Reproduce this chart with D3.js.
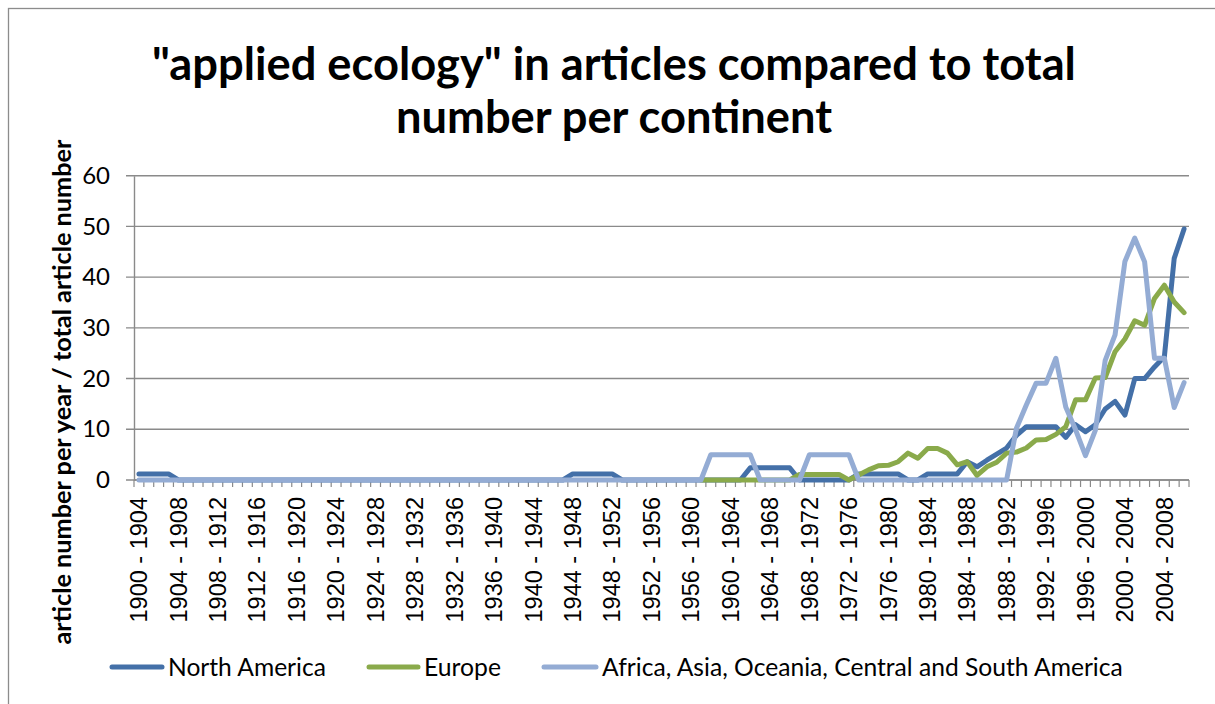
<!DOCTYPE html>
<html>
<head>
<meta charset="utf-8">
<script src="https://cdn.jsdelivr.net/npm/d3@7"></script>
<style>
  body { margin: 0; background: #fff; }
  svg { display: block; }
</style>
</head>
<body>
<div id="chart"></div>
<script>
// 5-year windows, one per start year
var categories = d3.range(1900, 2007).map(function(y) { return y + " - " + (y + 4); });
var tickLabels = categories.filter(function(d, i) { return i % 4 === 0; });
var yTicks = [0, 10, 20, 30, 40, 50, 60];

var northAmerica = [
  1.2, 1.2, 1.2, 1.2, 0, 0, 0, 0, 0, 0,
  0, 0, 0, 0, 0, 0, 0, 0, 0, 0,
  0, 0, 0, 0, 0, 0, 0, 0, 0, 0,
  0, 0, 0, 0, 0, 0, 0, 0, 0, 0,
  0, 0, 0, 0, 1.2, 1.2, 1.2, 1.2, 1.2, 0,
  0, 0, 0, 0, 0, 0, 0, 0, 0, 0,
  0, 0, 2.4, 2.4, 2.4, 2.4, 2.4, 0, 0, 0,
  0, 0, 0, 1.2, 1.2, 1.2, 1.2, 1.2, 0, 0,
  1.2, 1.2, 1.2, 1.2, 3.6, 2.6, 3.9, 5.1, 6.3, 8.8,
  10.5, 10.5, 10.5, 10.5, 8.4, 10.9, 9.5, 10.9, 14.0, 15.5,
  12.8, 20.0, 20.0, 22.3, 24.3, 43.7, 49.5
];

var europe = [
  null, null, null, null, null, null, null, null, null, null,
  null, null, null, null, null, null, null, null, null, null,
  null, null, null, null, null, null, null, null, null, null,
  null, null, null, null, null, null, null, null, null, null,
  null, null, null, null, null, null, null, null, null, null,
  null, null, null, null, null, null, null, 0, 0, 0,
  0, 0, 0, 0, 0, 0, 0, 1.1, 1.1, 1.1,
  1.1, 1.1, 0, 1.0, 2.0, 2.8, 2.9, 3.6, 5.3, 4.3,
  6.2, 6.2, 5.3, 3.0, 3.6, 0.9, 2.6, 3.5, 5.3, 5.5,
  6.3, 7.9, 8.0, 9.0, 10.5, 15.8, 15.8, 20.1, 20.2, 25.3,
  27.8, 31.4, 30.5, 35.8, 38.4, 35.1, 33.0
];

var otherRegions = [
  0, 0, 0, 0, 0, 0, 0, 0, 0, 0,
  0, 0, 0, 0, 0, 0, 0, 0, 0, 0,
  0, 0, 0, 0, 0, 0, 0, 0, 0, 0,
  0, 0, 0, 0, 0, 0, 0, 0, 0, 0,
  0, 0, 0, 0, 0, 0, 0, 0, 0, 0,
  0, 0, 0, 0, 0, 0, 0, 0, 5.0, 5.0,
  5.0, 5.0, 5.0, 0, 0, 0, 0, 0, 5.0, 5.0,
  5.0, 5.0, 5.0, 0, 0, 0, 0, 0, 0, 0,
  0, 0, 0, 0, 0, 0, 0, 0, 0, 10.2,
  14.8, 19.1, 19.1, 24.0, 14.4, 9.9, 4.8, 9.8, 23.6, 28.6,
  43.1, 47.7, 43.0, 24.0, 24.0, 14.3, 19.2
];

var seriesNames = ["North America", "Europe", "Africa, Asia, Oceania, Central and South America"];
var seriesColors = ["#4470a8", "#8aaa4b", "#94acd4"];
var seriesValues = [northAmerica, europe, otherRegions];

var svgWidth = 1215;
var svgHeight = 704;

var plot = { left: 134, right: 1189, top: 175.7, bottom: 480 };

var svg = d3.select("#chart")
  .append("svg")
  .attr("width", svgWidth)
  .attr("height", svgHeight);

// outer chart border
svg.append("rect")
  .attr("x", 8.5)
  .attr("y", 8.5)
  .attr("width", svgWidth + 20)
  .attr("height", svgHeight + 20)
  .attr("fill", "none")
  .attr("stroke", "#8c8c8c")
  .attr("stroke-width", 1.3);

// shrink/grow a text to a target width
function fitWidth(sel, w) {
  var len = sel.node().getComputedTextLength();
  var fs = parseFloat(sel.attr("font-size"));
  sel.attr("font-size", fs * w / len);
  return fs * w / len;
}

var xScale = d3.scaleBand()
  .domain(categories)
  .range([plot.left, plot.right])
  .paddingInner(0)
  .paddingOuter(0);

var yScale = d3.scaleLinear()
  .domain([0, 60])
  .range([plot.bottom, plot.top]);

var xMid = function(c) { return xScale(c) + xScale.bandwidth() / 2; };

// gridlines
svg.append("g")
  .selectAll("line")
  .data(yTicks)
  .enter()
  .append("line")
  .attr("x1", plot.left - 8)
  .attr("x2", plot.right)
  .attr("y1", function(d) { return yScale(d); })
  .attr("y2", function(d) { return yScale(d); })
  .attr("stroke", "#8a8a8a")
  .attr("stroke-width", 1.4);

// y axis
var yAxis = d3.axisLeft(yScale)
  .tickValues(yTicks)
  .tickSize(0)
  .tickPadding(24);

var yAxisG = svg.append("g")
  .attr("transform", "translate(" + plot.left + ",0)")
  .call(yAxis);

yAxisG.select(".domain")
  .attr("stroke", "#8a8a8a")
  .attr("stroke-width", 1.4);

yAxisG.selectAll("text")
  .attr("font-family", "Lato, 'Open Sans', sans-serif")
  .attr("font-size", "24px")
  .attr("fill", "#000");

// x axis: tick marks on category boundaries
var xAxisG = svg.append("g");

xAxisG.append("line")
  .attr("x1", plot.left)
  .attr("x2", plot.right)
  .attr("y1", plot.bottom)
  .attr("y2", plot.bottom)
  .attr("stroke", "#8a8a8a")
  .attr("stroke-width", 1.4);

xAxisG.selectAll(".xtick")
  .data(categories.concat(["end"]))
  .enter()
  .append("line")
  .attr("class", "xtick")
  .attr("x1", function(d, i) { return plot.left + i * xScale.bandwidth(); })
  .attr("x2", function(d, i) { return plot.left + i * xScale.bandwidth(); })
  .attr("y1", plot.bottom)
  .attr("y2", plot.bottom + 7)
  .attr("stroke", "#8a8a8a")
  .attr("stroke-width", 1.2);

xAxisG.selectAll(".xlabel")
  .data(tickLabels)
  .enter()
  .append("text")
  .attr("class", "xlabel")
  .attr("transform", function(d) { return "translate(" + xMid(d) + "," + (plot.bottom + 17) + ") rotate(-90)"; })
  .attr("text-anchor", "end")
  .attr("dy", "0.35em")
  .attr("font-family", "'Liberation Sans', Arial, sans-serif")
  .attr("font-size", "23.5px")
  .attr("fill", "#000")
  .text(function(d) { return d; });

// lines
var line = d3.line()
  .defined(function(d) { return d.v !== null; })
  .x(function(d) { return xMid(d.c); })
  .y(function(d) { return yScale(d.v); });

seriesValues.forEach(function(vals, k) {
  var pts = vals.map(function(v, i) { return { c: categories[i], v: v }; });
  svg.append("path")
    .datum(pts)
    .attr("d", line)
    .attr("fill", "none")
    .attr("stroke", seriesColors[k])
    .attr("stroke-width", 5)
    .attr("stroke-linejoin", "round")
    .attr("stroke-linecap", "round");
});

// title
var title1 = svg.append("text")
  .attr("x", 614)
  .attr("y", 80)
  .attr("text-anchor", "middle")
  .attr("font-family", "Lato, 'Open Sans', sans-serif")
  .attr("font-weight", "bold")
  .attr("font-size", 40)
  .text("\"applied ecology\" in articles compared to total");
var titleSize = fitWidth(title1, 924);

svg.append("text")
  .attr("x", 614)
  .attr("y", 133)
  .attr("text-anchor", "middle")
  .attr("font-family", "Lato, 'Open Sans', sans-serif")
  .attr("font-weight", "bold")
  .attr("font-size", titleSize)
  .text("number per continent");

// y axis title
var yTitle = svg.append("text")
  .attr("transform", "translate(62," + 392 + ") rotate(-90)")
  .attr("text-anchor", "middle")
  .attr("dy", "0.35em")
  .attr("font-family", "Lato, 'Open Sans', sans-serif")
  .attr("font-weight", "bold")
  .attr("font-size", 20)
  .text("article number per year / total article number");
fitWidth(yTitle, 505);

// legend
var legendItems = [
  { name: seriesNames[0], color: seriesColors[0], x1: 112, x2: 162, tx: 168, tw: 158 },
  { name: seriesNames[1], color: seriesColors[1], x1: 369, x2: 418, tx: 424, tw: 77 },
  { name: seriesNames[2], color: seriesColors[2], x1: 544, x2: 596, tx: 602, tw: 521 }
];

var legend = svg.append("g");

legendItems.forEach(function(d) {
  legend.append("line")
    .attr("x1", d.x1)
    .attr("x2", d.x2)
    .attr("y1", 667)
    .attr("y2", 667)
    .attr("stroke", d.color)
    .attr("stroke-width", 5)
    .attr("stroke-linecap", "round");
  var t = legend.append("text")
    .attr("x", d.tx)
    .attr("y", 667)
    .attr("dy", "0.35em")
    .attr("font-family", "Lato, 'Open Sans', sans-serif")
    .attr("font-size", 22)
    .attr("fill", "#000")
    .text(d.name);
  fitWidth(t, d.tw);
});
</script>
</body>
</html>
